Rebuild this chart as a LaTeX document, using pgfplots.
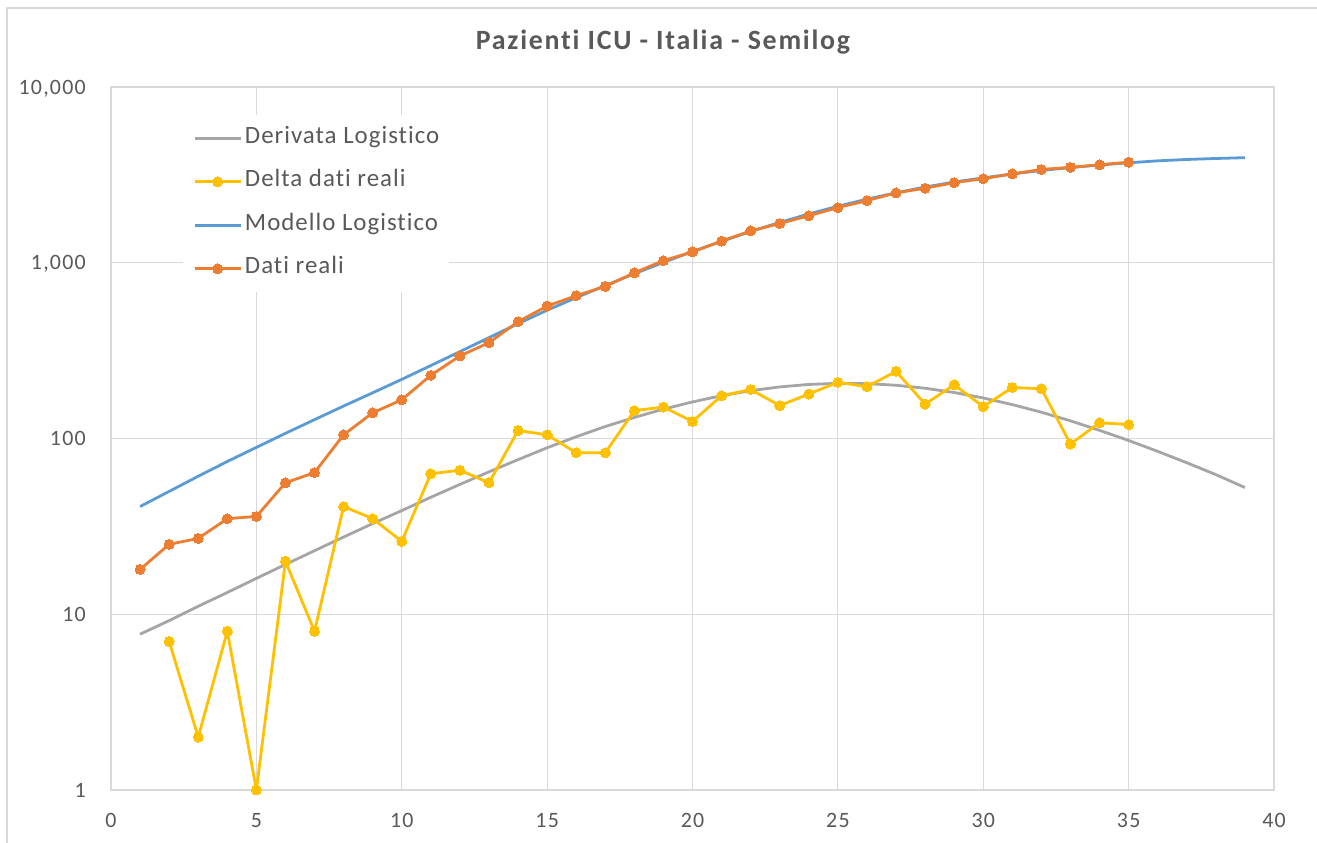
\documentclass[border=0pt]{standalone}
\usepackage{fontspec}
\setmainfont{Carlito}
\newfontfamily\ticksfont[LetterSpace=5.7,Ligatures=NoCommon]{Carlito}
\newfontfamily\legfont[LetterSpace=4,Ligatures=NoCommon]{Carlito}
\newfontfamily\titlefont[LetterSpace=6.3,Ligatures=NoCommon]{Carlito}
\usepackage{pgfplots}
\pgfplotsset{compat=1.18}
\definecolor{cgray}{HTML}{A5A5A5}
\definecolor{cyellow}{HTML}{FFC000}
\definecolor{cblue}{HTML}{5B9BD5}
\definecolor{corange}{HTML}{ED7D31}
\definecolor{gridc}{HTML}{D9D9D9}
\definecolor{txt}{HTML}{595959}
\begin{document}
\begin{tikzpicture}
\useasboundingbox (0,0) rectangle (1317bp,843bp);
\fill[white] (0,0) rectangle (1317bp,843bp);
\draw[gridc, line width=1.2bp] (7bp,0) -- (7bp,835bp) -- (1317bp,835bp);
\node[anchor=base, font=\titlefont\fontsize{28}{32}\selectfont\bfseries, text=txt] at (663bp,793bp) {Pazienti ICU - Italia - Semilog};
\begin{axis}[
  scale only axis, width=1163bp, height=703bp,
  at={(111bp,53bp)}, anchor=south west,
  ymode=log, xmin=0, xmax=40, ymin=1, ymax=10000,
  xtick={0,5,...,40}, ytick={1,10,100,1000,10000},
  xticklabels={0,5,10,15,20,25,30,35,40},
  yticklabels={1,10,100,{1,000},{10,000}},
  grid=major, grid style={gridc, line width=1.2bp},
  axis line style={gridc, line width=1.2bp},
  major tick length=0pt, minor tick length=0pt,
  /pgf/number format/assume math mode=true,
  ticklabel style={font=\ticksfont\fontsize{22}{26}\selectfont, text=txt, inner sep=0pt, text depth=0pt},
  xticklabel style={anchor=center, yshift=-30bp},
  yticklabel style={anchor=east, xshift=-25bp},
  legend cell align=left,
  legend style={at={(axis description cs:0.0619,0.9602)}, anchor=north west,
    fill=white, draw=none, inner xsep=10bp, inner ysep=12bp,
    font=\legfont\fontsize{25}{29}\selectfont, text=txt, row sep=21.5bp, column sep=3bp,
    nodes={inner sep=0pt, text height=16bp, text depth=6bp}},
  legend image code/.code={\draw[mark repeat=2,mark phase=2,#1] plot coordinates {(0bp,0bp) (23bp,0bp) (46bp,0bp)};},
  every axis plot/.append style={line width=2.8bp, line join=round},
]
\addplot[cgray, no marks] coordinates {
(1,7.7) (2,9.2) (3,11.1) (4,13.3) (5,16.0) (6,19.2) (7,23.0) (8,27.5) (9,32.8) (10,38.9)
(11,46.3) (12,54.8) (13,64.6) (14,75.8) (15,88.6) (16,102.3) (17,117) (18,131.8) (19,146.9) (20,161.5)
(21,175.2) (22,187.1) (23,196.6) (24,203) (25,206) (26,205.3) (27,200.9) (28,193.2) (29,182.7) (30,170.1)
(31,155.9) (32,141.1) (33,126) (34,111.3) (35,97.4) (36,84.5) (37,72.8) (38,62.3) (39,52.6)};
\addlegendentry{Derivata Logistico}
\addplot[cyellow, mark=*, mark size=5bp, mark options={fill=cyellow, draw=cyellow, line width=0pt}] coordinates {
(2,7) (3,2) (4,8) (5,1) (6,20) (7,8) (8,41) (9,35) (10,26)
(11,63) (12,66) (13,56) (14,111) (15,105) (16,83) (17,83) (18,144) (19,151) (20,125)
(21,175) (22,190) (23,154) (24,179) (25,209) (26,197) (27,241) (28,157) (29,202) (30,152)
(31,195) (32,192) (33,93) (34,123) (35,120)};
\addlegendentry{Delta dati reali}
\addplot[cblue, no marks] coordinates {
(1,41) (2,50) (3,61) (4,74) (5,89) (6,107) (7,128) (8,153) (9,182) (10,217)
(11,260) (12,312) (13,375) (14,450) (15,537) (16,633) (17,742) (18,866) (19,1005) (20,1158)
(21,1325) (22,1505) (23,1696) (24,1894) (25,2096) (26,2300) (27,2500) (28,2695) (29,2880) (30,3040)
(31,3200) (32,3350) (33,3480) (34,3600) (35,3705) (36,3800) (37,3870) (38,3920) (39,3962)};
\addlegendentry{Modello Logistico}
\addplot[corange, mark=*, mark size=5bp, mark options={fill=corange, draw=corange, line width=0pt}] coordinates {
(1,18) (2,25) (3,27) (4,35) (5,36) (6,56) (7,64) (8,105) (9,140) (10,166)
(11,229) (12,295) (13,351) (14,462) (15,567) (16,650) (17,733) (18,877) (19,1028) (20,1153)
(21,1328) (22,1518) (23,1672) (24,1851) (25,2060) (26,2257) (27,2498) (28,2655) (29,2857) (30,3009)
(31,3204) (32,3396) (33,3489) (34,3612) (35,3732)};
\addlegendentry{Dati reali}
\end{axis}
\end{tikzpicture}
\end{document}
